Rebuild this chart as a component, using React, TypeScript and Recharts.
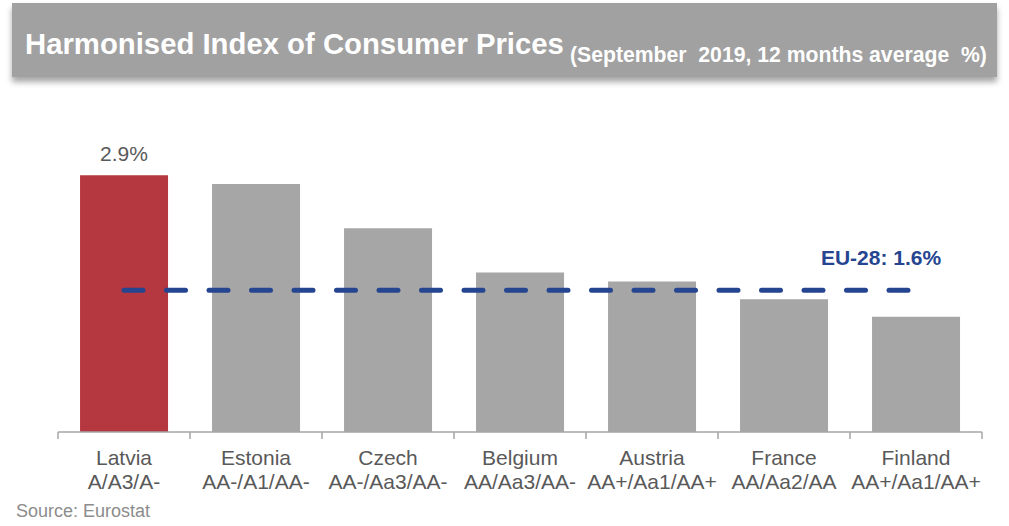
import { Bar, Cell, ComposedChart, LabelList, Line, XAxis, YAxis } from "recharts";

const countries = ["Latvia", "Estonia", "Czech", "Belgium", "Austria", "France", "Finland"];
const ratings = ["A/A3/A-", "AA-/A1/AA-", "AA-/Aa3/AA-", "AA/Aa3/AA-", "AA+/Aa1/AA+", "AA/Aa2/AA", "AA+/Aa1/AA+"];
const hicp = [2.9, 2.8, 2.3, 1.8, 1.7, 1.5, 1.3];
const euAverage = 1.6;

const data = countries.map((name, i) => ({
  name,
  rating: ratings[i],
  value: hicp[i],
  eu: euAverage,
  label: i === 0 ? `${hicp[i]}%` : ""
}));

const font = "'Liberation Sans', Arial, sans-serif";

function CategoryTick(props: any) {
  const { x, y, payload, index } = props;
  const half = 66;
  const rating = ratings[index];
  return (
    <g>
      <line x1={x - half} x2={x - half} y1={y - 8} y2={y - 1} stroke="#a6a6a6" strokeWidth={1.5} />
      {index === countries.length - 1 && (
        <line x1={x + half} x2={x + half} y1={y - 8} y2={y - 1} stroke="#a6a6a6" strokeWidth={1.5} />
      )}
      <text x={x} y={y + 24.5} textAnchor="middle" fill="#595959" fontSize={21} fontFamily={font}>
        {payload.value}
      </text>
      <text x={x} y={y + 48.5} textAnchor="middle" fill="#595959" fontSize={21} fontFamily={font}>
        {rating}
      </text>
    </g>
  );
}

function EuLabel(props: any) {
  const { x, y, index } = props;
  if (index !== countries.length - 1) return null;
  return (
    <text x={x - 35} y={y - 25} textAnchor="middle" fill="#254590" fontSize={21} fontWeight="bold" fontFamily={font}>
      {`EU-28: ${euAverage}%`}
    </text>
  );
}

export default function App() {
  return (
    <div style={{ position: "absolute", left: 0, top: 0, width: 1009, height: 526, background: "#fff", fontFamily: font }}>
      <div
        style={{
          position: "absolute",
          left: 12,
          top: 3,
          width: 985,
          height: 74,
          background: "#a1a1a1",
          boxShadow: "0 5px 6px rgba(0,0,0,0.35)"
        }}
      />
      <svg width={1009} height={526} style={{ position: "absolute", left: 0, top: 0 }}>
        <text x={25} y={54} fill="#fff" fontSize={29.3} fontWeight="bold" fontFamily={font}>
          Harmonised Index of Consumer Prices
        </text>
        <text x={570} y={62} fill="#fff" fontSize={21.2} fontWeight="bold" fontFamily={font} style={{ whiteSpace: "pre" }}>
          (September  2019, 12 months average  %)
        </text>
        <text x={16} y={517} fill="#8c8c8c" fontSize={18} fontFamily={font}>
          Source: Eurostat
        </text>
      </svg>
      <div style={{ position: "absolute", left: 0, top: 0 }}>
        <ComposedChart
          width={1009}
          height={526}
          data={data}
          margin={{ top: 122, right: 27, bottom: 34, left: 58 }}
          barCategoryGap="16.7%"
        >
          <XAxis
            dataKey="name"
            height={60}
            axisLine={{ stroke: "#a6a6a6", strokeWidth: 1.5 }}
            tickLine={false}
            tick={<CategoryTick />}
            interval={0}
          />
          <YAxis hide domain={[0, 3.5]} />
          <Bar dataKey="value" isAnimationActive={false}>
            {data.map((d, i) => (
              <Cell key={d.name} fill={i === 0 ? "#b5373f" : "#a6a6a6"} />
            ))}
            <LabelList dataKey="label" position="top" offset={14} fill="#595959" fontSize={21} fontFamily={font} />
          </Bar>
          <Line
            dataKey="eu"
            stroke="#254590"
            strokeWidth={5}
            strokeDasharray="19 23.5"
            strokeLinecap="round"
            dot={false}
            activeDot={false}
            isAnimationActive={false}
          >
            <LabelList dataKey="eu" content={<EuLabel />} />
          </Line>
        </ComposedChart>
      </div>
    </div>
  );
}
